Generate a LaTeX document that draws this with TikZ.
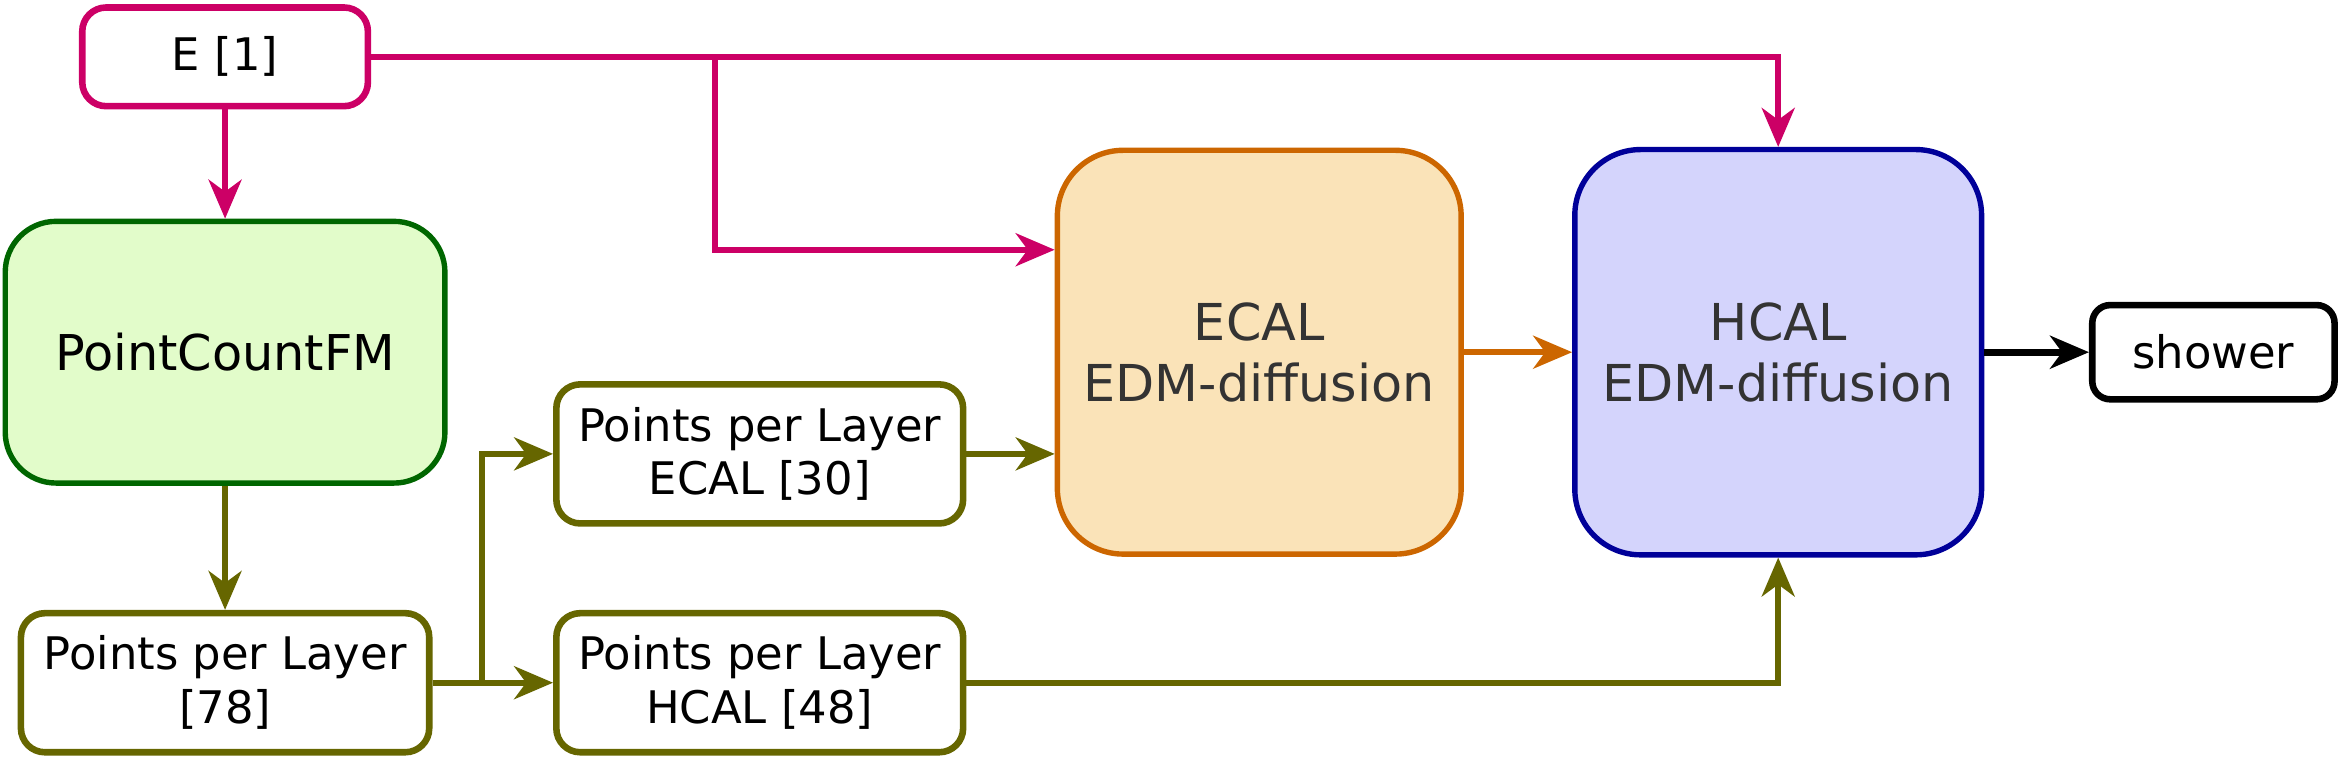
\documentclass[tikz,border=0pt]{standalone}
\usepackage{fontspec}
\setmainfont{DejaVu Sans}
\usetikzlibrary{arrows.meta}
\definecolor{mag}{HTML}{CC0066}
\definecolor{olive}{HTML}{666600}
\definecolor{gstroke}{HTML}{006600}
\definecolor{gfill}{HTML}{E2FCCA}
\definecolor{ostroke}{HTML}{CC6600}
\definecolor{ofill}{HTML}{FAE3B8}
\definecolor{bstroke}{HTML}{000099}
\definecolor{bfill}{HTML}{D4D4FC}
\definecolor{txtgray}{HTML}{333333}
\tikzset{
  box/.style={draw, inner sep=0pt, align=center, line width=2.2pt, font=\fontsize{15}{18}\selectfont},
  smallbox/.style={box, rounded corners=8pt},
  bigbox/.style={draw, inner sep=0pt, align=center, line width=1.8pt, rounded corners=22pt, text=txtgray, font=\fontsize{17}{20.5}\selectfont},
  conn/.style={line width=2pt, -{Stealth[length=13pt,width=11pt,inset=4pt]}},
}
\begin{document}
\begin{tikzpicture}[x=0.5pt,y=-0.5pt]
\useasboundingbox (0,0) rectangle (1568,507.5);
% nodes
\node[smallbox, draw=mag, minimum width=95.5pt, minimum height=33pt] (E) at (150.5,38) {E [1]};
\node[box, draw=gstroke, fill=gfill, line width=1.8pt, rounded corners=17pt, minimum width=147pt, minimum height=87.5pt, font=\fontsize{16.5}{20}\selectfont] (PC) at (150.5,235.5) {PointCountFM};
\node[smallbox, draw=olive, minimum width=136.5pt, minimum height=46.5pt] (P78) at (150.5,456.5) {Points per Layer\\{}[78]};
\node[smallbox, draw=olive, minimum width=136pt, minimum height=46.5pt] (P30) at (508,303.5) {Points per Layer\\ECAL [30]};
\node[smallbox, draw=olive, minimum width=136pt, minimum height=46.5pt] (P48) at (508,456.5) {Points per Layer\\HCAL [48]};
\node[bigbox, draw=ostroke, fill=ofill, minimum width=135pt, minimum height=135pt] (ECAL) at (842,235.5) {ECAL\\EDM-diffusion};
\node[bigbox, draw=bstroke, fill=bfill, minimum width=136pt, minimum height=135.5pt] (HCAL) at (1189,235.5) {HCAL\\EDM-diffusion};
\node[smallbox, draw=black, rounded corners=6pt, minimum width=81pt, minimum height=31.5pt] (SH) at (1480,235.5) {shower};
% coordinates
\coordinate (b1) at (478,38);
\coordinate (s1) at (322,456.5);
% magenta connectors
\draw[conn, mag] (E.south) -- (PC.north);
\draw[conn, mag] (E.east) -| (HCAL.north);
\draw[conn, mag] (b1) |- (ECAL.west |- 0,167);
% olive connectors
\draw[conn, olive] (PC.south) -- (P78.north);
\draw[conn, olive] (P78.east) -- (P48.west);
\draw[conn, olive] (s1) |- (P30.west);
\draw[conn, olive] (P30.east) -- (ECAL.west |- P30.east);
\draw[conn, olive] (P48.east) -| (HCAL.south);
% others
\draw[conn, ostroke] (ECAL.east) -- (HCAL.west);
\draw[conn, black, line width=2.4pt] (HCAL.east) -- (SH.west);
\end{tikzpicture}
\end{document}
